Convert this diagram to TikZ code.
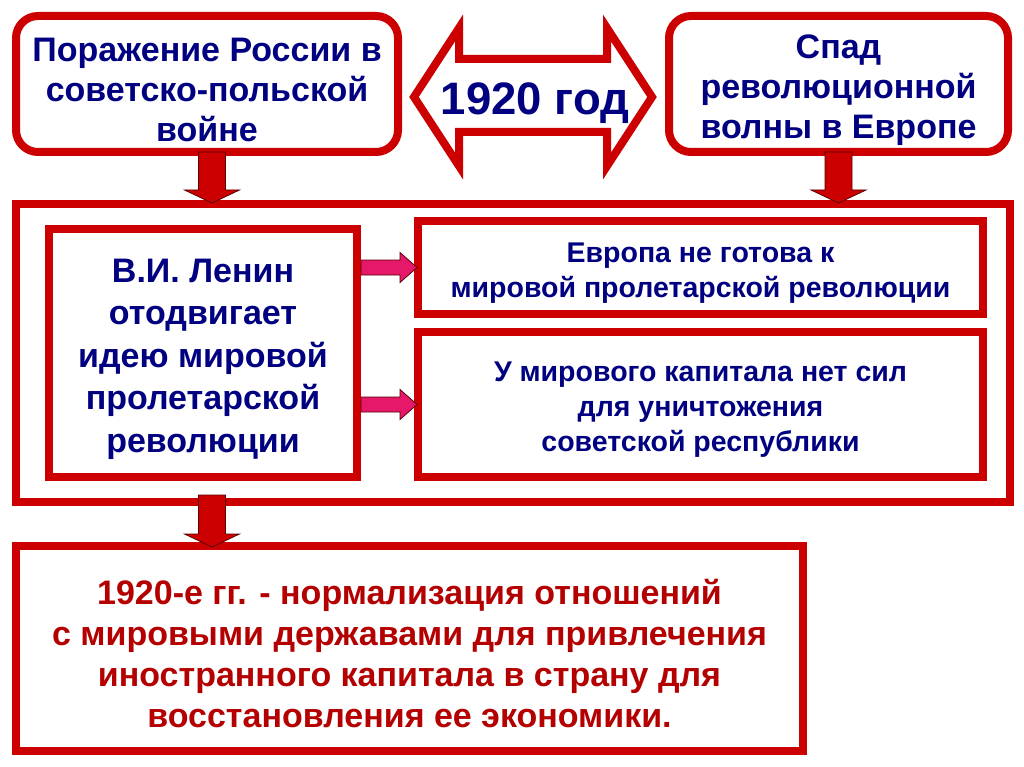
\documentclass[tikz,border=0pt]{standalone}
\usepackage{fontspec}
\setmainfont{Liberation Sans}
\usepackage{xcolor}
\usepackage{tikz}
\usetikzlibrary{calc}
\definecolor{slideRed}{HTML}{CC0000}
\definecolor{slideNavy}{HTML}{000080}
\definecolor{slideWine}{HTML}{B40000}
\definecolor{slidePink}{HTML}{E6186A}
\definecolor{edgeDark}{HTML}{5A0000}
\newcommand{\linepad}{\rule{0pt}{1.05em}}

\begin{document}
\begin{tikzpicture}[
    x=1pt, y=-1pt,
    font=\bfseries,
    roundbox/.style={draw=slideRed, fill=white, line width=8pt, rounded corners=22pt, align=center, text=slideNavy, font=\bfseries\fontsize{34}{40}\selectfont},
    plainbox/.style={draw=slideRed, fill=white, line width=8pt, align=center, text=#1},
    blockdown/.style={fill=slideRed, draw=edgeDark, line width=0.8pt, line join=miter,
        to path={let \p1=(\tikztostart), \p2=(\tikztotarget) in
            (\x1-13.5pt,\y1) -- (\x1+13.5pt,\y1) -- (\x1+13.5pt,\y2+13pt) -- (\x1+27.5pt,\y2+13pt)
            -- (\x1,\y2) -- (\x1-27.5pt,\y2+13pt) -- (\x1-13.5pt,\y2+13pt) -- cycle}},
    blockright/.style={fill=slidePink, draw=edgeDark, line width=0.8pt, line join=miter,
        to path={let \p1=(\tikztostart), \p2=(\tikztotarget) in
            (\x1,\y1+7.5pt) -- (\x2-17pt,\y1+7.5pt) -- (\x2-17pt,\y1+15pt) -- (\x2,\y1)
            -- (\x2-17pt,\y1-15pt) -- (\x2-17pt,\y1-7.5pt) -- (\x1,\y1-7.5pt) -- cycle}}
]
\fill[white] (0,0) rectangle (1024,767);
\useasboundingbox (0,0) rectangle (1024,767);

% top row
\node[roundbox, minimum width=382pt, minimum height=136pt] (defeat) at (207,84) {\linepad Поражение России в\\советско-польской\\войне};
\node[roundbox, minimum width=339pt, minimum height=136pt] (ebb) at (838.5,84) {\linepad Спад\\революционной\\волны в Европе};

\draw[slideRed, line width=8pt, fill=white, line join=miter, miter limit=5]
    (414,97) -- (459,28) -- (459,59) -- (607,59) -- (607,28) -- (652,97)
    -- (607,166) -- (607,132) -- (459,132) -- (459,166) -- cycle;
\node[text=slideNavy, font=\bfseries\fontsize{45.5}{50}\selectfont] (year) at (535,103.5) {1920 год};

% middle frame
\node[draw=slideRed, line width=8pt, minimum width=994pt, minimum height=298pt] (frame) at (513,353) {};
\node[plainbox=slideNavy, minimum width=308pt, minimum height=248pt, font=\bfseries\fontsize{34}{42.5}\selectfont] (lenin) at (203,353) {\linepad В.И. Ленин\\отодвигает\\идею мировой\\пролетарской\\революции};
\node[plainbox=slideNavy, minimum width=565pt, minimum height=93pt, font=\bfseries\fontsize{28.5}{35}\selectfont] (europe) at (700.5,267.5) {\linepad Европа не готова к\\мировой пролетарской революции};
\node[plainbox=slideNavy, minimum width=565pt, minimum height=145pt, font=\bfseries\fontsize{28.5}{35}\selectfont] (capital) at (700.5,404.5) {\linepad У мирового капитала нет сил\\для уничтожения\\советской республики};

% bottom
\node[plainbox=slideWine, minimum width=787pt, minimum height=205pt, font=\bfseries\fontsize{34}{41}\selectfont] (result) at (409.5,648.5) {\linepad 1920-е гг. - нормализация отношений\\с мировыми державами для привлечения\\иностранного капитала в страну для\\восстановления ее экономики.};

\coordinate (drop) at (212,495);

\draw[blockdown] ([xshift=5pt,yshift=4pt]defeat.south) to ([yshift=-3pt]defeat.south |- frame.north);
\draw[blockdown] ([yshift=4pt]ebb.south) to ([yshift=-3pt]ebb.south |- frame.north);
\draw[blockdown] (drop) to ([yshift=-5pt]drop |- result.north);
\draw[blockright] (lenin.east |- europe.west) to ([xshift=3pt]europe.west);
\draw[blockright] (lenin.east |- capital.west) to ([xshift=3pt]capital.west);
\end{tikzpicture}
\end{document}
